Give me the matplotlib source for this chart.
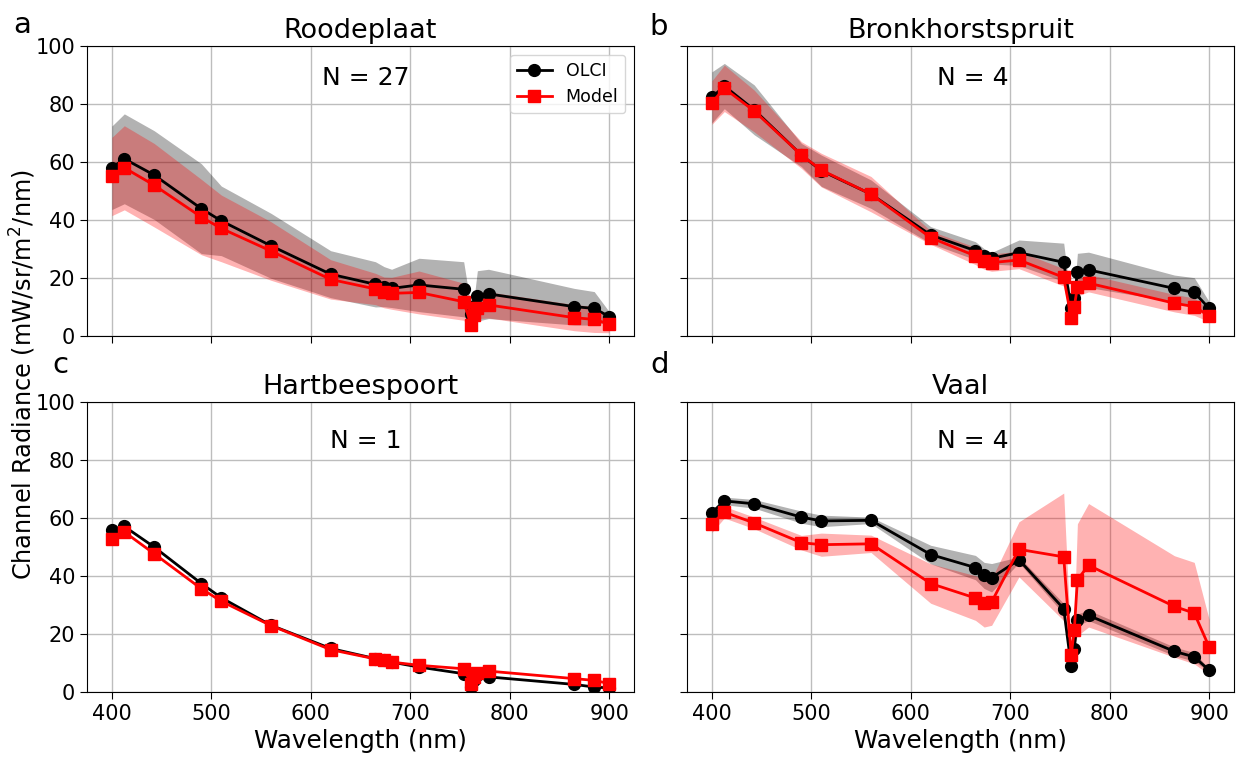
import numpy as np
import matplotlib
matplotlib.use('Agg')
import matplotlib.pyplot as plt

# OLCI band centres (nm)
wavelength = [400, 412.5, 442.5, 490, 510, 560, 620, 665, 673.75, 681.25,
              708.75, 753.75, 761.25, 764.375, 767.5, 778.75, 865, 885, 900]

# Roodeplaat (N = 27)
olci_rood = [58.0, 61.1, 55.5, 43.9, 39.7, 31.1, 21.3, 17.8, 17.0, 16.4,
             17.6, 16.1, 7.5, 10.5, 13.8, 14.5, 10.1, 9.5, 6.7]
olci_rood_sd = [14.4, 15.5, 15.3, 15.5, 12.0, 11.2, 8.1, 7.8, 6.9, 6.6,
                9.2, 9.5, 2.0, 3.0, 8.7, 8.5, 6.3, 5.8, 1.7]
model_rood = [55.0, 58.0, 52.0, 41.0, 37.1, 29.3, 19.5, 16.2, 15.0, 14.7,
              15.0, 11.8, 3.8, 7.2, 9.5, 10.7, 6.3, 5.7, 4.1]
model_rood_sd = [13.5, 14.5, 14.4, 13.0, 11.5, 10.1, 6.8, 5.4, 5.3, 5.5,
                 7.4, 6.4, 2.0, 2.5, 3.5, 4.5, 4.5, 4.5, 3.0]

# Bronkhorstspruit (N = 4)
olci_bronk = [82.3, 86.2, 78.0, 62.4, 57.0, 48.9, 34.8, 29.4, 27.6, 26.8,
              28.7, 25.4, 9.5, 13.0, 22.0, 22.8, 16.4, 15.0, 9.5]
olci_bronk_sd = [8.8, 7.8, 8.6, 4.0, 5.4, 4.9, 2.9, 3.1, 2.5, 2.0,
                 4.4, 6.6, 1.5, 2.0, 6.5, 6.1, 4.6, 5.1, 2.3]
model_bronk = [80.5, 85.4, 77.6, 62.4, 57.2, 48.9, 33.9, 27.6, 26.0, 25.3,
               26.2, 20.2, 6.3, 10.1, 16.8, 18.2, 11.3, 10.1, 6.9]
model_bronk_sd = [7.5, 8.0, 7.2, 4.6, 5.8, 6.1, 2.3, 3.0, 3.0, 3.0,
                  3.0, 3.0, 1.5, 2.0, 3.0, 3.0, 3.0, 3.0, 2.0]

# Hartbeespoort (N = 1, no spread)
olci_hart = [55.7, 57.1, 50.0, 37.4, 32.5, 23.0, 15.0, 11.5, 10.9, 10.3,
             8.6, 6.3, 1.7, 4.0, 5.7, 5.2, 2.6, 1.7, 1.4]
model_hart = [52.9, 55.2, 47.7, 35.6, 31.3, 22.9, 14.6, 11.4, 10.9, 10.3,
              9.2, 8.0, 2.9, 5.2, 6.6, 7.2, 4.6, 4.0, 2.9]

# Vaal (N = 4)
olci_vaal = [61.8, 65.9, 64.9, 60.3, 59.0, 59.2, 47.4, 42.9, 40.2, 39.4,
             45.6, 28.7, 8.9, 14.9, 24.9, 26.4, 14.0, 12.1, 7.5]
olci_vaal_sd = [1.0, 1.3, 1.5, 2.1, 2.0, 1.1, 3.2, 4.2, 4.5, 4.9,
                1.0, 1.8, 1.0, 1.5, 2.0, 1.8, 1.5, 1.5, 0.5]
model_vaal = [58.0, 62.0, 58.3, 51.5, 50.8, 51.1, 37.4, 32.4, 30.7, 31.0,
              49.2, 46.6, 12.6, 21.3, 38.7, 43.7, 29.5, 27.2, 15.5]
model_vaal_sd = [3.0, 2.0, 2.0, 2.5, 4.0, 3.0, 6.8, 7.7, 8.3, 8.0,
                 9.5, 22.0, 2.0, 5.0, 19.3, 21.3, 17.5, 17.5, 9.5]

panels = [
    ('a', 'Roodeplaat', 27, olci_rood, olci_rood_sd, model_rood, model_rood_sd),
    ('b', 'Bronkhorstspruit', 4, olci_bronk, olci_bronk_sd, model_bronk, model_bronk_sd),
    ('c', 'Hartbeespoort', 1, olci_hart, None, model_hart, None),
    ('d', 'Vaal', 4, olci_vaal, olci_vaal_sd, model_vaal, model_vaal_sd),
]

# positions of the panel letters (figure fraction)
letter_pos = {'a': (0.0178, 0.967), 'b': (0.533, 0.964),
              'c': (0.0485, 0.518), 'd': (0.534, 0.518)}

fig, axes = plt.subplots(2, 2, figsize=(12.36, 7.57), dpi=100, sharex=True, sharey=True)
fig.subplots_adjust(left=0.0704, right=0.9984, bottom=0.0859, top=0.9392,
                    wspace=0.097, hspace=0.228)

wl = np.array(wavelength)
for ax, (letter, site, n, olci, olci_sd, model, model_sd) in zip(axes.flat, panels):
    olci = np.array(olci)
    model = np.array(model)
    # spread of the matchups
    if olci_sd is not None:
        ax.fill_between(wl, olci - np.array(olci_sd), olci + np.array(olci_sd),
                        color='k', alpha=0.3, linewidth=0)
        ax.fill_between(wl, model - np.array(model_sd), model + np.array(model_sd),
                        color='r', alpha=0.3, linewidth=0)
    ax.plot(wl, olci, '-o', color='k', lw=2, ms=8.5, label='OLCI')
    ax.plot(wl, model, '-s', color='r', lw=2, ms=8, label='Model')

    ax.set_title(site, fontsize=19.5)
    ny = 89 if letter in 'ab' else 86.5
    nx = 655 if letter in 'ac' else 662
    ax.text(nx, ny, 'N = %d' % n, fontsize=18, ha='center', va='center')
    ax.grid(True, color='#bdbdbd', lw=1)
    ax.set_axisbelow(True)
    ax.tick_params(labelsize=15, length=5)
    fig.text(letter_pos[letter][0], letter_pos[letter][1], letter,
             fontsize=21, ha='center', va='center')

ax0 = axes[0, 0]
ax0.set_ylim(0, 100)
ax0.set_yticks([0, 20, 40, 60, 80, 100])
ax0.set_xticks([400, 500, 600, 700, 800, 900])
ax0.legend(loc='upper right', fontsize=12.5, framealpha=0.8)

for ax in axes[1]:
    ax.set_xlabel('Wavelength (nm)', fontsize=17.7)

fig.text(0.0185, 0.505, 'Channel Radiance (mW/sr/m$^2$/nm)', fontsize=17.3,
         rotation=90, ha='center', va='center')

plt.savefig('out.png', dpi=100)
